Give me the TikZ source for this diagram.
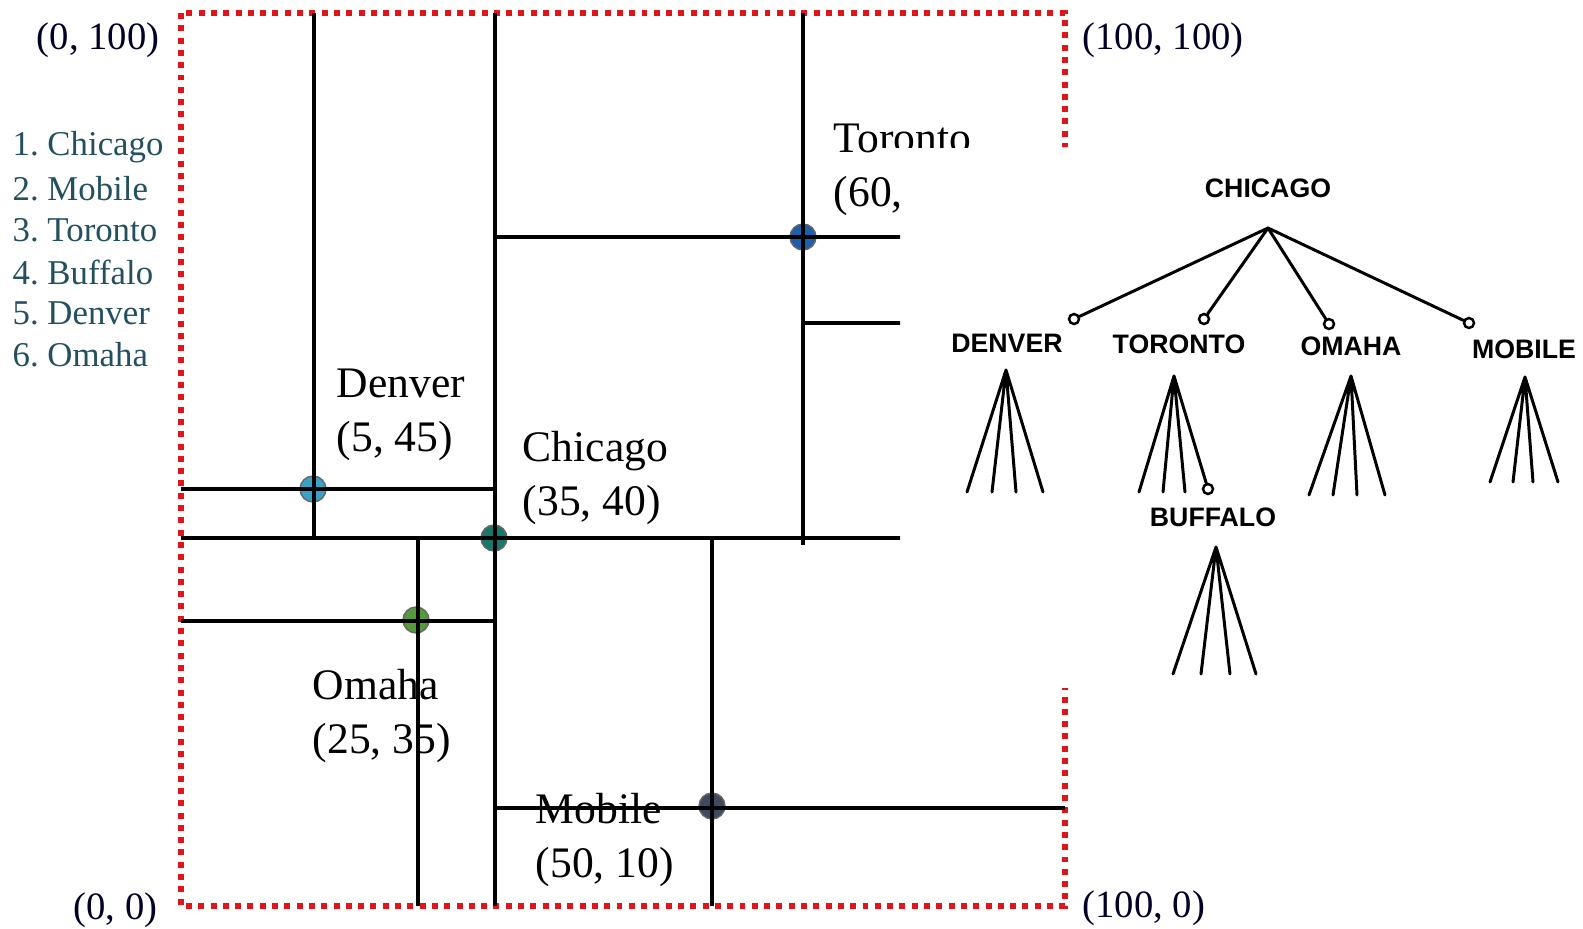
\documentclass[tikz,border=0pt]{standalone}
\usepackage{fontspec}
\setmainfont{Liberation Serif}
\newfontfamily\treefont{Liberation Sans}
\usetikzlibrary{positioning}
\frenchspacing
\definecolor{listcol}{RGB}{35,80,95}
\definecolor{redbox}{RGB}{225,20,25}
\definecolor{cDen}{RGB}{60,160,200}
\definecolor{cChi}{RGB}{25,120,105}
\definecolor{cOma}{RGB}{85,155,60}
\definecolor{cTor}{RGB}{30,95,170}
\definecolor{cMob}{RGB}{60,75,95}
\tikzset{
  part/.style={line width=1pt, black},
  bound/.style={redbox, line width=1.7pt, dash pattern=on 1.7pt off 1.8pt},
  city/.style={circle, draw=black!60, line width=0.4pt, inner sep=0pt, minimum size=2.6mm},
  clab/.style={align=left, anchor=west, inner sep=0pt, font=\fontsize{12.4}{15.2}\selectfont},
  cnr/.style={inner sep=0pt, text=black!85!blue, font=\fontsize{11}{13}\selectfont},
  lst/.style={anchor=west, inner sep=0pt, text=listcol, font=\fontsize{9.9}{11.9}\selectfont},
  tlab/.style={inner sep=0pt, font=\treefont\bfseries\fontsize{7.6}{9}\selectfont},
  tline/.style={line width=0.85pt, line cap=round},
  knot/.style={circle, draw, line width=0.7pt, inner sep=0pt, minimum size=1mm, fill=white},
}
\begin{document}
\begin{tikzpicture}[x=0.1mm, y=-0.1mm]
\useasboundingbox (0,0) rectangle (1583,928);
% corner labels and list
\node[cnr, anchor=east] (c0h) at (160,40) {(0, 100)};
\node[cnr, anchor=west] (chh) at (1082,40) {(100, 100)};
\node[cnr, anchor=east] (c00) at (158,910) {(0, 0)};
\node[cnr, anchor=west] (ch0) at (1082,908) {(100, 0)};
\node[lst] (l1) at (12,147) {1. Chicago};
\node[lst] (l2) at (12,189) {2. Mobile};
\node[lst] (l3) at (12,230) {3. Toronto};
\node[lst] (l4) at (12,272) {4. Buffalo};
\node[lst] (l5) at (12,313) {5. Denver};
\node[lst] (l6) at (12,355) {6. Omaha};
% the plane, partly hidden by the tree
\begin{scope}
\clip (0,0) -- (1583,0) -- (1583,147) -- (876,147) -- (876,170) -- (900,170)
  -- (900,688) -- (1583,688) -- (1583,928) -- (0,928) -- cycle;
\node[clab] (denl) at (336,415) {Denver\\(5, 45)};
\node[clab] (chil) at (522,478) {Chicago\\(35, 40)};
\node[clab] (omal) at (312,716) {Omaha\\(25, 35)};
\node[clab] (mobl) at (535,840) {Mobile\\(50, 10)};
\node[clab] (torl) at (833,170) {Toronto\\(60,};
\node[city, fill=cDen] (den) at (313,489) {};
\node[city, fill=cChi] (chi) at (494,538) {};
\node[city, fill=cOma] (oma) at (416,620) {};
\node[city, fill=cTor] (tor) at (803,237) {};
\node[city, fill=cMob] (mob) at (712,806) {};
\draw[bound] (181,13) rectangle (1065,906);
\draw[part] (314,13) -- (314,538);
\draw[part] (495,13) -- (495,906);
\draw[part] (803,13) -- (803,545);
\draw[part] (418,536) -- (418,906);
\draw[part] (712,540) -- (712,906);
\draw[part] (495,237) -- (1065,237);
\draw[part] (803,323) -- (1065,323);
\draw[part] (181,489) -- (495,489);
\draw[part] (181,538) -- (1065,538);
\draw[part] (181,621) -- (495,621);
\draw[part] (495,808) -- (1065,808);
\end{scope}
% tree
\node[tlab] (tchi) at (1268,188) {CHICAGO};
\coordinate (root) at (1268,228);
\node[knot] (kden) at (1074,319) {};
\node[knot] (ktor) at (1204,319) {};
\node[knot] (koma) at (1329,324) {};
\node[knot] (kmob) at (1469,323) {};
\draw[tline] (root) -- (kden);
\draw[tline] (root) -- (ktor);
\draw[tline] (root) -- (koma);
\draw[tline] (root) -- (kmob);
\node[tlab] (tden) at (1007,343) {DENVER};
\node[tlab] (ttor) at (1179,344) {TORONTO};
\node[tlab] (toma) at (1351,346) {OMAHA};
\node[tlab] (tmob) at (1524,349) {MOBILE};
\node[tlab] (tbuf) at (1213,517) {BUFFALO};
% subtrees
\coordinate (aden) at (1006,370);
\coordinate (ator) at (1174,376);
\coordinate (aoma) at (1351,376);
\coordinate (amob) at (1525,377);
\coordinate (abuf) at (1216,547);
\node[knot] (kbuf) at (1208,489) {};
\foreach \n/\x in {1/967,2/992,3/1016,4/1043} \coordinate (den\n) at (\x,492);
\foreach \n/\x in {1/1139,2/1163,3/1185} \coordinate (tor\n) at (\x,492);
\foreach \n/\x in {1/1309,2/1333,3/1357,4/1385} \coordinate (oma\n) at (\x,495);
\foreach \n/\x in {1/1490,2/1513,3/1533,4/1558} \coordinate (mob\n) at (\x,482);
\foreach \n/\x in {1/1173,2/1201,3/1230,4/1256} \coordinate (buf\n) at (\x,674);
\draw[tline] (aden) -- (den1) (aden) -- (den2) (aden) -- (den3) (aden) -- (den4);
\draw[tline] (ator) -- (tor1) (ator) -- (tor2) (ator) -- (tor3) (ator) -- (kbuf);
\draw[tline] (aoma) -- (oma1) (aoma) -- (oma2) (aoma) -- (oma3) (aoma) -- (oma4);
\draw[tline] (amob) -- (mob1) (amob) -- (mob2) (amob) -- (mob3) (amob) -- (mob4);
\draw[tline] (abuf) -- (buf1) (abuf) -- (buf2) (abuf) -- (buf3) (abuf) -- (buf4);
\end{tikzpicture}
\end{document}
